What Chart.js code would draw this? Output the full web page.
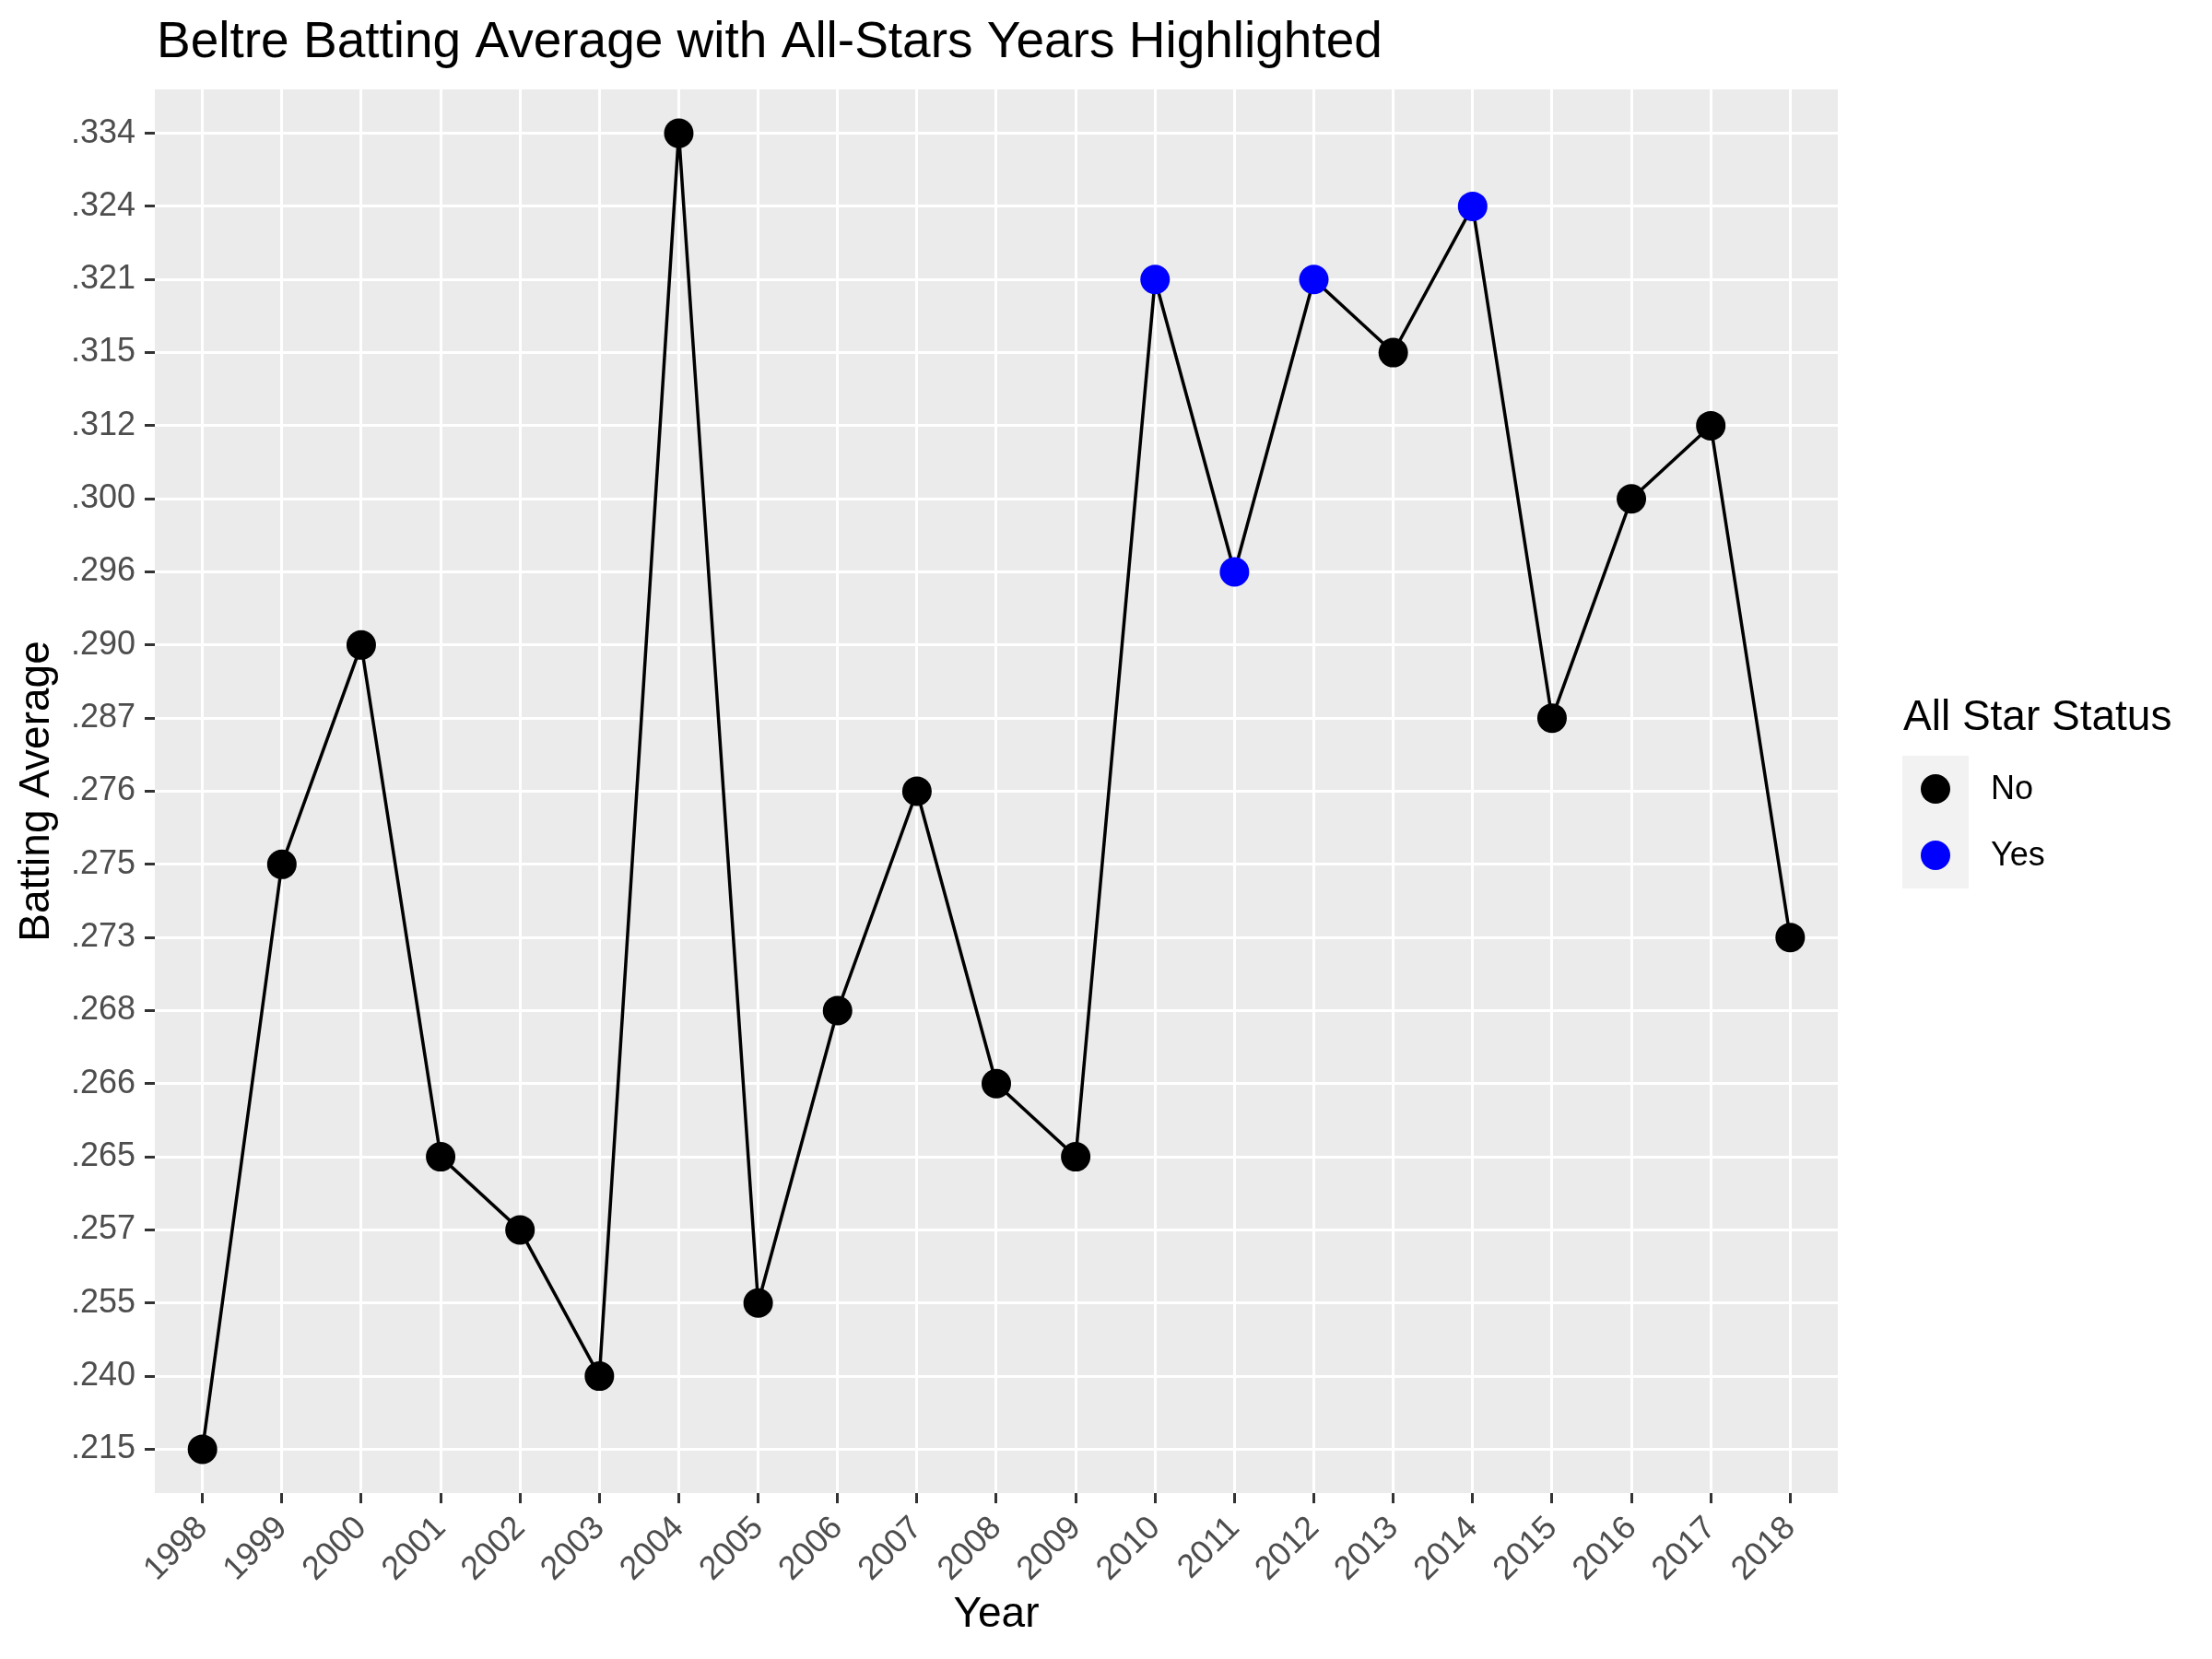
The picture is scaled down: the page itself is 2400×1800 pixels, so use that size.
<!DOCTYPE html>
<html>
<head>
<meta charset="utf-8">
<title>Beltre Batting Average</title>
<script src="https://cdn.jsdelivr.net/npm/chart.js@4/dist/chart.umd.min.js"></script>
<style>
  html, body { margin: 0; padding: 0; background: #ffffff; }
  #chart { display: block; }
</style>
</head>
<body>
<canvas id="chart" width="2400" height="1800"></canvas>
<script>
"use strict";

// data
const years = [
  "1998", "1999", "2000", "2001", "2002", "2003", "2004", "2005", "2006", "2007", "2008",
  "2009", "2010", "2011", "2012", "2013", "2014", "2015", "2016", "2017", "2018",
];
const battingAvg = [
  ".215", ".275", ".290", ".265", ".257", ".240", ".334", ".255", ".268", ".276", ".266",
  ".265", ".321", ".296", ".321", ".315", ".324", ".287", ".300", ".312", ".273",
];
const allStar = [
  "No", "No", "No", "No", "No", "No", "No", "No", "No", "No", "No",
  "No", "Yes", "Yes", "Yes", "No", "Yes", "No", "No", "No", "No",
];
// discrete y levels (bottom to top), as ggplot shows them
const avgLevels = [
  ".215", ".240", ".255", ".257", ".265", ".266", ".268", ".273", ".275", ".276",
  ".287", ".290", ".296", ".300", ".312", ".315", ".321", ".324", ".334",
];
const statusLabels = ["No", "Yes"];
const statusColors = ["#000000", "#0000FF"];

const FONT = "'Liberation Sans', Arial, sans-serif";
const EXPAND = 0.6;

const panelPlugin = {
  id: "panel",
  beforeDraw(chart) {
    const { ctx, chartArea } = chart;
    ctx.save();
    ctx.fillStyle = "#EBEBEB";
    ctx.fillRect(chartArea.left, chartArea.top,
      chartArea.right - chartArea.left, chartArea.bottom - chartArea.top);
    ctx.restore();
  },
};

const titleLegendPlugin = {
  id: "titleLegend",
  afterDraw(chart) {
    const { ctx } = chart;
    ctx.save();
    // plot title
    ctx.fillStyle = "#000000";
    ctx.textAlign = "left";
    ctx.textBaseline = "alphabetic";
    ctx.font = "55px " + FONT;
    ctx.fillText("Beltre Batting Average with All-Stars Years Highlighted", 170, 62);

    // legend
    ctx.font = "46px " + FONT;
    ctx.fillText("All Star Status", 2065, 792);
    ctx.fillStyle = "#F2F2F2";
    ctx.fillRect(2064, 820, 72, 72 * statusLabels.length);
    ctx.font = "36px " + FONT;
    ctx.textBaseline = "middle";
    statusLabels.forEach((label, i) => {
      const cy = 856 + i * 72;
      ctx.fillStyle = statusColors[i];
      ctx.beginPath();
      ctx.arc(2100, cy, 16, 0, Math.PI * 2);
      ctx.fill();
      ctx.fillStyle = "#000000";
      ctx.fillText(label, 2160, cy + 1);
    });
    ctx.restore();
  },
};

setChart();

function setChart() {
  Chart.defaults.font.family = FONT;
  const points = years.map((year, i) => {
    return { x: i, y: avgLevels.indexOf(battingAvg[i]) };
  });
  const pointColors = allStar.map((s) => statusColors[statusLabels.indexOf(s)]);

  const ctx = document.getElementById("chart");
  new Chart(ctx, {
    type: "line",
    data: {
      datasets: [
        {
          data: points,
          borderColor: "#000000",
          borderWidth: 3.5,
          tension: 0,
          pointRadius: 16,
          pointHoverRadius: 16,
          pointBorderWidth: 0,
          pointBackgroundColor: pointColors,
          pointBorderColor: pointColors,
        },
      ],
    },
    options: {
      responsive: false,
      animation: false,
      devicePixelRatio: 1,
      layout: { padding: { top: 97, right: 406, left: 0, bottom: 0 } },
      plugins: {
        legend: { display: false },
        tooltip: { enabled: false },
      },
      scales: {
        x: discreteAxis(years, "Year", true),
        y: discreteAxis(avgLevels, "Batting Average", false),
      },
    },
    plugins: [panelPlugin, titleLegendPlugin],
  });
}

function discreteAxis(labels, titleText, horizontal) {
  const last = labels.length - 1;
  return {
    type: "linear",
    min: -EXPAND,
    max: last + EXPAND,
    afterBuildTicks: (scale) => {
      scale.min = -EXPAND;
      scale.max = last + EXPAND;
    },
    afterFit: (scale) => {
      if (horizontal) scale.height = 180;
      else scale.width = 168;
    },
    border: { display: false },
    grid: {
      color: "#FFFFFF",
      lineWidth: 3,
      tickColor: "#333333",
      tickWidth: 3,
      tickLength: 11,
    },
    ticks: {
      stepSize: 1,
      includeBounds: false,
      autoSkip: false,
      minRotation: horizontal ? 45 : 0,
      maxRotation: horizontal ? 45 : 0,
      padding: horizontal ? 6 : 10,
      color: "#4D4D4D",
      font: { size: 36 },
      callback: (value) => labels[value],
    },
    title: {
      display: true,
      text: titleText,
      color: "#000000",
      font: { size: 46 },
      padding: horizontal ? { top: 0, bottom: 20 } : { top: 13, bottom: 0 },
    },
  };
}
</script>
</body>
</html>
